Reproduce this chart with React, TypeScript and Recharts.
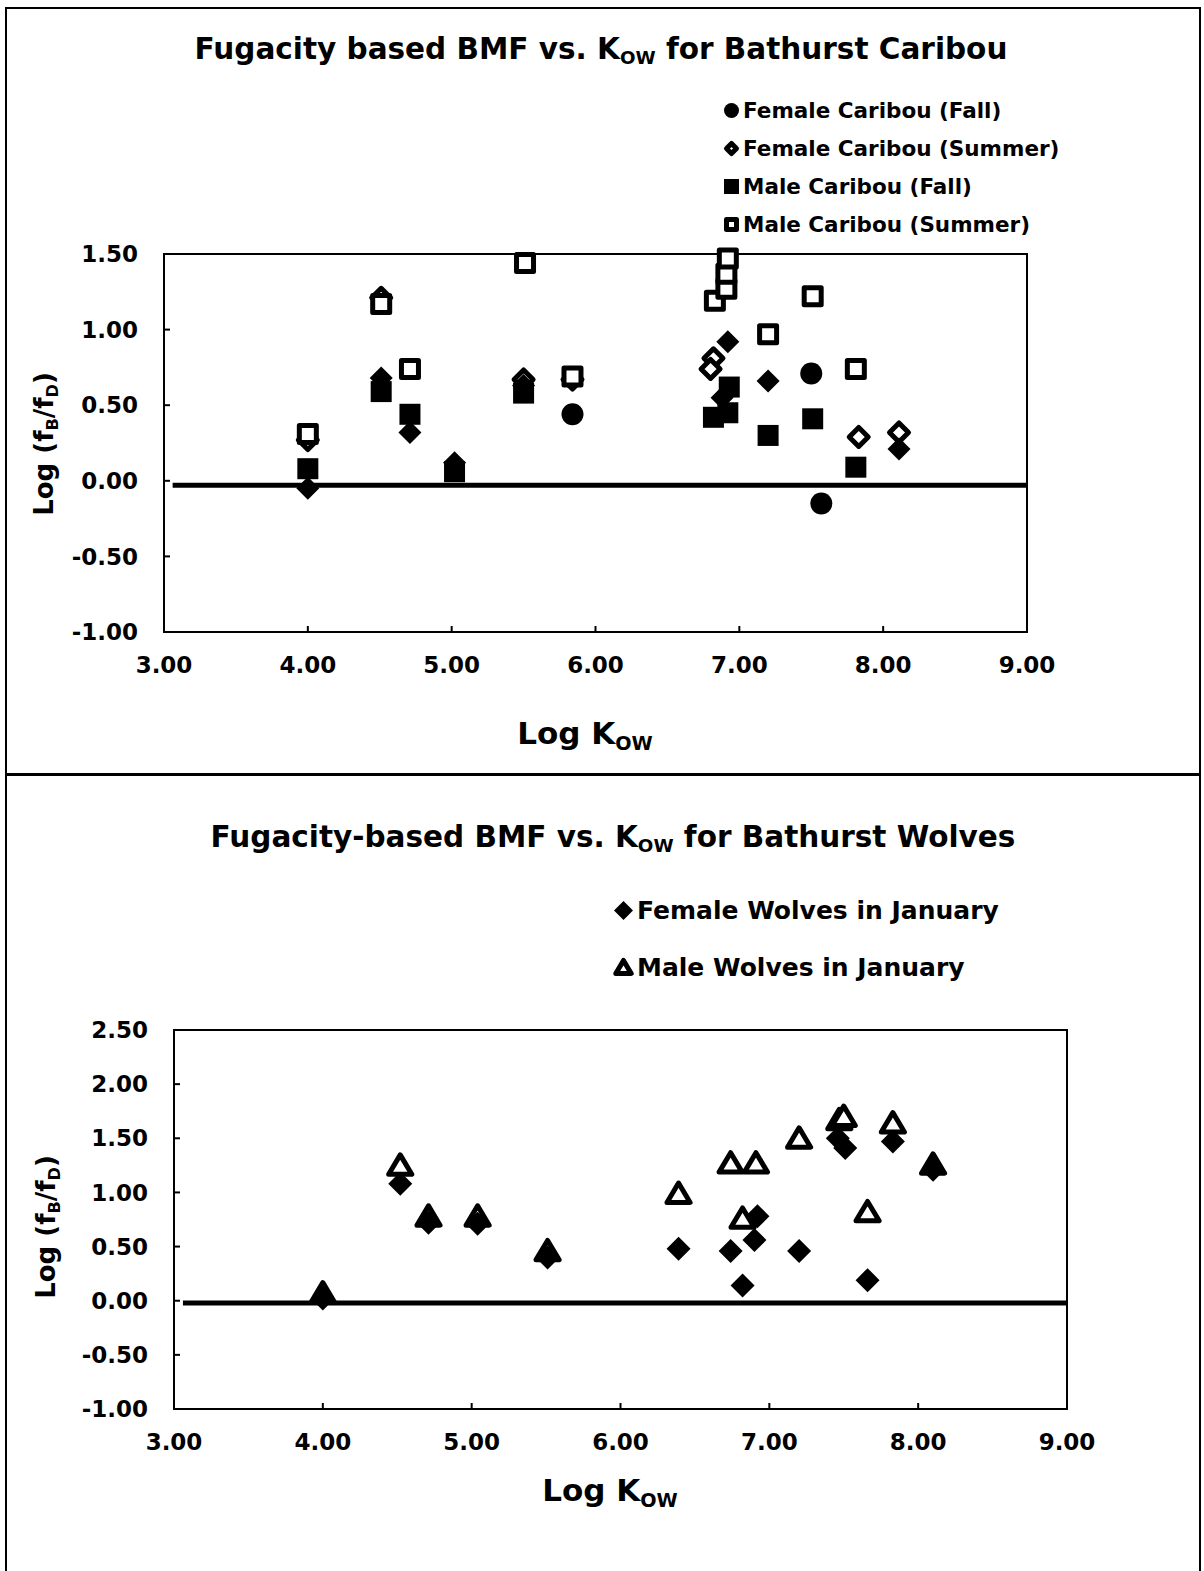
import React from 'react'
import { ScatterChart, Scatter, XAxis, YAxis, ReferenceLine, ReferenceArea } from 'recharts'

type Pt = { x: number; y: number }
type Kind = 'circle' | 'square' | 'diamond' | 'triangle'

// Caribou (top panel)
const femaleFallCaribou: Pt[] = [
  { x: 5.84, y: 0.44 }, { x: 7.5, y: 0.71 }, { x: 7.57, y: -0.15 },
]
// same series, drawn as filled diamonds in the scan (not in the legend)
const femaleFallCaribouB: Pt[] = [
  { x: 4.0, y: -0.05 }, { x: 4.51, y: 0.68 }, { x: 4.71, y: 0.32 }, { x: 5.02, y: 0.12 },
  { x: 5.5, y: 0.63 }, { x: 6.88, y: 0.55 }, { x: 6.92, y: 0.92 }, { x: 7.2, y: 0.66 },
  { x: 8.11, y: 0.21 },
]
const femaleSummerCaribou: Pt[] = [
  { x: 4.0, y: 0.27 }, { x: 4.51, y: 1.21 }, { x: 5.5, y: 0.67 }, { x: 5.84, y: 0.67 },
  { x: 6.82, y: 0.81 }, { x: 6.8, y: 0.74 }, { x: 7.83, y: 0.29 }, { x: 8.11, y: 0.32 },
]
const maleFallCaribou: Pt[] = [
  { x: 4.0, y: 0.08 }, { x: 4.51, y: 0.59 }, { x: 4.71, y: 0.44 }, { x: 5.02, y: 0.06 },
  { x: 5.5, y: 0.58 }, { x: 6.82, y: 0.42 }, { x: 6.92, y: 0.45 }, { x: 6.93, y: 0.62 },
  { x: 7.2, y: 0.3 }, { x: 7.51, y: 0.41 }, { x: 7.81, y: 0.09 },
]
const maleSummerCaribou: Pt[] = [
  { x: 4.0, y: 0.31 }, { x: 4.51, y: 1.17 }, { x: 4.71, y: 0.74 }, { x: 5.51, y: 1.44 },
  { x: 5.84, y: 0.69 }, { x: 6.83, y: 1.19 }, { x: 6.91, y: 1.27 }, { x: 6.91, y: 1.37 },
  { x: 6.92, y: 1.47 }, { x: 7.2, y: 0.97 }, { x: 7.51, y: 1.22 }, { x: 7.81, y: 0.74 },
]

// Wolves (bottom panel)
const femaleWolves: Pt[] = [
  { x: 4.0, y: 0.02 }, { x: 4.52, y: 1.08 }, { x: 4.71, y: 0.72 }, { x: 5.04, y: 0.71 },
  { x: 5.51, y: 0.4 }, { x: 6.39, y: 0.48 }, { x: 6.74, y: 0.46 }, { x: 6.82, y: 0.14 },
  { x: 6.9, y: 0.56 }, { x: 6.92, y: 0.78 }, { x: 7.2, y: 0.46 }, { x: 7.46, y: 1.5 },
  { x: 7.51, y: 1.41 }, { x: 7.66, y: 0.19 }, { x: 7.83, y: 1.47 }, { x: 8.1, y: 1.21 },
]
const maleWolves: Pt[] = [
  { x: 4.0, y: 0.07 }, { x: 4.52, y: 1.25 }, { x: 4.71, y: 0.78 }, { x: 5.04, y: 0.78 },
  { x: 5.51, y: 0.46 }, { x: 6.39, y: 0.99 }, { x: 6.74, y: 1.27 }, { x: 6.82, y: 0.76 },
  { x: 6.91, y: 1.27 }, { x: 7.2, y: 1.5 }, { x: 7.47, y: 1.67 }, { x: 7.5, y: 1.7 },
  { x: 7.66, y: 0.82 }, { x: 7.83, y: 1.64 }, { x: 8.1, y: 1.26 },
]

const xTicks = [3, 4, 5, 6, 7, 8, 9]
const caribouYTicks = [-1, -0.5, 0, 0.5, 1, 1.5]
const wolfYTicks = [-1, -0.5, 0, 0.5, 1, 1.5, 2, 2.5]
const caribouBaseline = [{ x: 3.06, y: -0.03 }, { x: 9, y: -0.03 }]
const wolfBaseline = [{ x: 3.06, y: -0.02 }, { x: 9, y: -0.02 }]

const FONT = '"DejaVu Sans", "Liberation Sans", Arial, sans-serif'

const Marker = ({ cx, cy, kind, open, size }: { cx?: number; cy?: number; kind: Kind; open: boolean; size: number }) => {
  if (cx == null || cy == null) return null
  const sw = open ? 5 : 0
  const r = size - sw / 2
  const p = { fill: open ? '#fff' : '#000', stroke: '#000', strokeWidth: sw, strokeLinejoin: 'round' as const }
  if (kind === 'circle') return <circle cx={cx} cy={cy} r={r} {...p} />
  if (kind === 'square') return <rect x={cx - r} y={cy - r} width={2 * r} height={2 * r} {...p} />
  if (kind === 'diamond')
    return <polygon points={`${cx},${cy - r} ${cx + r},${cy} ${cx},${cy + r} ${cx - r},${cy}`} {...p} />
  return <polygon points={`${cx},${cy - r} ${cx + r * 1.1},${cy + r * 0.85} ${cx - r * 1.1},${cy + r * 0.85}`} {...p} />
}

type Series = { name: string; data: Pt[]; kind: Kind; open: boolean; size: number; legend: boolean }

const caribouSeries: Series[] = [
  { name: 'Female Caribou (Summer)', data: femaleSummerCaribou, kind: 'diamond', open: true, size: 12, legend: true },
  { name: 'Male Caribou (Summer)', data: maleSummerCaribou, kind: 'square', open: true, size: 11, legend: true },
  { name: 'Female Caribou (Fall) b', data: femaleFallCaribouB, kind: 'diamond', open: false, size: 11.5, legend: false },
  { name: 'Female Caribou (Fall)', data: femaleFallCaribou, kind: 'circle', open: false, size: 11, legend: true },
  { name: 'Male Caribou (Fall)', data: maleFallCaribou, kind: 'square', open: false, size: 10.5, legend: true },
]
const caribouLegendOrder = ['Female Caribou (Fall)', 'Female Caribou (Summer)', 'Male Caribou (Fall)', 'Male Caribou (Summer)']

const wolfSeries: Series[] = [
  { name: 'Male Wolves in January', data: maleWolves, kind: 'triangle', open: true, size: 13, legend: true },
  { name: 'Female Wolves in January', data: femaleWolves, kind: 'diamond', open: false, size: 12, legend: true },
]
const wolfLegendOrder = ['Female Wolves in January', 'Male Wolves in January']

const fmt = (v: number) => v.toFixed(2)
const tickStyle = { fill: '#000', fontSize: 23, fontWeight: 700, fontFamily: FONT }

const Plot = ({ series, yDomain, yTicks, baseline, margin }: {
  series: Series[]; yDomain: [number, number]; yTicks: number[]; baseline: Pt[]
  margin: { top: number; right: number; bottom: number; left: number }
}) => (
  <ScatterChart width={1204} height={720} margin={margin}>
    <XAxis type="number" dataKey="x" domain={[3, 9]} ticks={xTicks} tickFormatter={fmt} height={60}
      tick={tickStyle} axisLine={{ stroke: '#000', strokeWidth: 2 }} tickLine={{ stroke: '#000', strokeWidth: 2 }}
      tickSize={-6} tickMargin={31} />
    <YAxis type="number" dataKey="y" domain={yDomain} ticks={yTicks} tickFormatter={fmt} width={100}
      tick={tickStyle} axisLine={{ stroke: '#000', strokeWidth: 2 }} tickLine={{ stroke: '#000', strokeWidth: 2 }}
      tickSize={-6} tickMargin={32} />
    <ReferenceArea x1={3} x2={9} y1={yDomain[0]} y2={yDomain[1]} fill="none" stroke="#000" strokeWidth={2} />
    <ReferenceLine segment={baseline} stroke="#000" strokeWidth={5} />
    {series.map((s) => (
      <Scatter key={s.name} name={s.name} data={s.data} isAnimationActive={false}
        shape={(p: any) => <Marker cx={p.cx} cy={p.cy} kind={s.kind} open={s.open} size={s.size} />} />
    ))}
  </ScatterChart>
)

const LegendBox = ({ series, order, left, top, rowGap, fontSize, markerSize }: {
  series: Series[]; order: string[]; left: number; top: number; rowGap: number; fontSize: number; markerSize: number
}) => (
  <div style={{ position: 'absolute', left, top }}>
    {order.map((name, i) => {
      const s = series.find((d) => d.name === name)!
      const w = markerSize * 2 + 4
      return (
        <div key={name} style={{ position: 'absolute', top: i * rowGap, left: 0, display: 'flex', alignItems: 'center', whiteSpace: 'nowrap', height: 30 }}>
          <svg width={w} height={w} style={{ marginRight: 2 }}>
            <Marker cx={w / 2} cy={w / 2} kind={s.kind} open={s.open} size={markerSize} />
          </svg>
          <span style={{ fontSize, fontWeight: 700 }}>{name}</span>
        </div>
      )
    })}
  </div>
)

const sub = { fontSize: '0.62em', verticalAlign: '-0.3em' }

const Title = ({ children, cx, cy, fontSize }: { children: React.ReactNode; cx: number; cy: number; fontSize: number }) => (
  <div style={{ position: 'absolute', left: cx - 600, top: cy - fontSize / 2, width: 1200, textAlign: 'center', fontSize, fontWeight: 700, lineHeight: 1, whiteSpace: 'nowrap' }}>
    {children}
  </div>
)

const YTitle = ({ cx, cy }: { cx: number; cy: number }) => (
  <div style={{ position: 'absolute', left: cx - 150, top: cy - 13, width: 300, textAlign: 'center', fontSize: 26, fontWeight: 700, lineHeight: 1, transform: 'rotate(-90deg)', whiteSpace: 'nowrap' }}>
    Log (f<span style={sub}>B</span>/f<span style={sub}>D</span>)
  </div>
)

export default function App() {
  return (
    <div style={{ position: 'absolute', left: 0, top: 0, width: 1204, height: 1571, background: '#fff', fontFamily: FONT, color: '#000', overflow: 'hidden' }}>
      <div style={{ position: 'absolute', left: 5, top: 7, width: 1192, height: 765, border: '2px solid #000' }} />
      <div style={{ position: 'absolute', left: 5, top: 773, width: 1192, height: 800, border: '2px solid #000', borderTopWidth: 3 }} />

      <div style={{ position: 'absolute', left: 0, top: 0 }}>
        <Plot series={caribouSeries} yDomain={[-1, 1.5]} yTicks={caribouYTicks} baseline={caribouBaseline}
          margin={{ top: 254, right: 177, bottom: 28, left: 64 }} />
      </div>
      <div style={{ position: 'absolute', left: 0, top: 776 }}>
        <Plot series={wolfSeries} yDomain={[-1, 2.5]} yTicks={wolfYTicks} baseline={wolfBaseline}
          margin={{ top: 254, right: 137, bottom: 27, left: 74 }} />
      </div>

      <Title cx={601} cy={50} fontSize={29.5}>
        Fugacity based BMF vs. K<span style={sub}>OW</span> for Bathurst Caribou
      </Title>
      <Title cx={613} cy={838} fontSize={29.5}>
        Fugacity-based BMF vs. K<span style={sub}>OW</span> for Bathurst Wolves
      </Title>

      <LegendBox series={caribouSeries} order={caribouLegendOrder} left={722} top={95} rowGap={38} fontSize={21.5} markerSize={7.5} />
      <LegendBox series={wolfSeries} order={wolfLegendOrder} left={612} top={895} rowGap={57} fontSize={25} markerSize={9.5} />

      <Title cx={585} cy={733} fontSize={31}>
        Log K<span style={sub}>OW</span>
      </Title>
      <Title cx={610} cy={1490} fontSize={31}>
        Log K<span style={sub}>OW</span>
      </Title>

      <YTitle cx={46} cy={442} />
      <YTitle cx={48} cy={1225} />
    </div>
  )
}
